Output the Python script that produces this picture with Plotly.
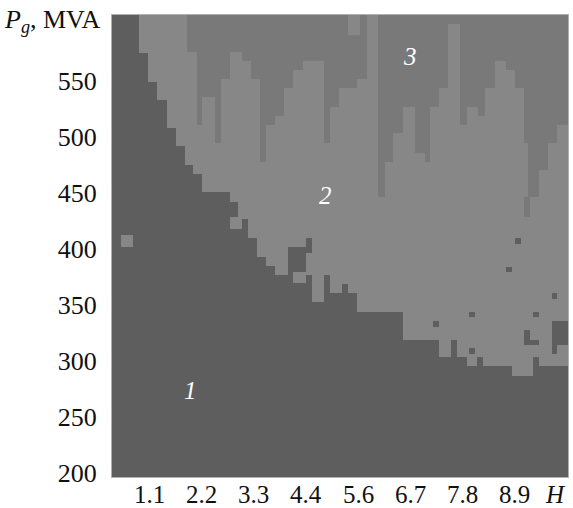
import numpy as np
import plotly.graph_objects as go

# Stability regions on the (H, Pg) plane: 1, 2 and 3

# Upper edge of region 1: for H in [E1_H[i], E1_H[i+1]) region 1 lies below E1_P[i]
E1_H = [0.317, 0.898, 1.089, 1.281, 1.481, 1.672, 1.864, 2.047, 2.238, 2.828, 3.004,
        3.217, 3.409, 3.594, 3.785, 4.055, 4.445, 4.566, 4.828, 4.955, 5.217, 5.345,
        5.523, 6.502, 7.281, 7.530, 7.651, 7.864, 8.08, 8.22, 8.821, 9.281, 9.409, 10.02]
E1_P = [610, 574.6, 549.3, 532.9, 508.1, 491.8, 474.8, 466.8, 451.0, 442.0, 426.6,
        409.3, 392.9, 384.6, 376.5, 401.8, 376.5, 352.1, 376.5, 360.2, 368.5, 360.2,
        343.7, 319.0, 303.5, 319.0, 303.5, 295.2, 303.0, 295.2, 286.2, 303.0, 295.2]

# Lower edge of region 3: for H in [E3_H[i], E3_H[i+1]) region 3 lies above E3_P[i]
E3_H = [0.317, 1.919, 2.119, 2.238, 2.509, 2.630, 2.828, 3.077, 3.274, 3.466, 3.594,
        3.785, 3.983, 4.174, 4.374, 4.828, 4.955, 5.153, 5.345, 5.523, 5.736, 5.983,
        6.126, 6.302, 6.502, 6.764, 6.977, 7.083, 7.281, 7.472, 7.721, 7.864, 8.111,
        8.253, 8.466, 8.700, 8.891, 9.083, 9.281, 9.409, 9.600, 9.791, 10.02]
E3_P = [999, 576.1, 510.6, 535.3, 494.2, 551.7, 576.1, 568.0, 551.7, 477.8, 510.6,
        518.6, 543.4, 559.7, 568.0, 494.2, 526.9, 543.4, 543.4, 551.7, 999, 446.5,
        477.8, 503.1, 526.9, 485.5, 477.8, 526.9, 543.4, 601.2, 510.6, 526.9, 518.6,
        543.4, 568.0, 559.7, 543.4, 494.2, 446.5, 470.3, 494.2, 510.6]

# Isolated islands: region, H from, H to, Pg from, Pg to
ISL_REGION = [2, 2, 2, 2,
              1, 1, 1, 1, 1, 1, 1, 1, 1, 1, 1, 1,
              3, 3]
ISL_H0 = [0.502, 2.828, 4.174, 5.345,
          7.919, 9.281, 7.153, 7.919, 9.672, 9.672, 9.083, 9.211, 8.891, 8.700, 9.672, 4.445,
          9.083, 9.174]
ISL_H1 = [0.770, 3.077, 4.438, 5.594,
          8.040, 9.409, 7.281, 8.040, 10.02, 9.791, 9.211, 9.409, 9.013, 8.821, 9.791, 4.566,
          9.211, 9.281]
ISL_P0 = [401.3, 417.6, 369.1, 591.0,
          338.7, 338.7, 330.3, 305.9, 313.9, 305.9, 313.9, 313.9, 404.2, 379.5, 355.1, 395.9,
          428.6, 446.5]
ISL_P1 = [412.3, 428.6, 379.5, 610.0,
          343.7, 343.7, 335.4, 311.0, 335.4, 313.9, 327.4, 319.0, 409.3, 383.9, 360.2, 409.3,
          446.5, 494.2]

H_RANGE = [0.317, 10.02]
P_RANGE = [196.2, 608.8]

X_TICKS = [10 / 9 * k for k in range(1, 9)]
X_TICKTEXT = ["1.1", "2.2", "3.3", "4.4", "5.6", "6.7", "7.8", "8.9"]
Y_TICKS = [200, 250, 300, 350, 400, 450, 500, 550]

COLORS = {1: "#5e5e5e", 2: "#878787", 3: "#797979"}

# cell edges: every breakpoint inside the visible window
xe = sorted(set([h for h in E1_H + E3_H + ISL_H0 + ISL_H1
                 if H_RANGE[0] <= h <= H_RANGE[1]] + H_RANGE))
ye = sorted(set([p for p in E1_P + E3_P + ISL_P0 + ISL_P1
                 if P_RANGE[0] <= p <= P_RANGE[1]] + P_RANGE))
xc = [(a + b) / 2 for a, b in zip(xe[:-1], xe[1:])]
yc = [(a + b) / 2 for a, b in zip(ye[:-1], ye[1:])]


def step_value(edges, levels, h):
    i = np.searchsorted(edges, h, side="right") - 1
    i = min(max(i, 0), len(levels) - 1)
    return levels[i]


z = np.full((len(yc), len(xc)), 2, dtype=int)
for j, h in enumerate(xc):
    p1 = step_value(E1_H, E1_P, h)
    p3 = step_value(E3_H, E3_P, h)
    for i, p in enumerate(yc):
        if p < p1:
            z[i, j] = 1
        elif p >= p3:
            z[i, j] = 3
for reg, h0, h1, p0, p1 in zip(ISL_REGION, ISL_H0, ISL_H1, ISL_P0, ISL_P1):
    for j, h in enumerate(xc):
        if h0 <= h <= h1:
            for i, p in enumerate(yc):
                if p0 <= p <= p1:
                    z[i, j] = reg

fig = go.Figure(go.Heatmap(
    x=xe, y=ye, z=z,
    zmin=1, zmax=3,
    colorscale=[[0, COLORS[1]], [0.5, COLORS[2]], [1, COLORS[3]]],
    showscale=False, hoverinfo="skip",
))

serif = "Liberation Serif"
for txt, hx, py in [("1", 1.98, 273.7), ("2", 4.85, 448.0), ("3", 6.66, 571.3)]:
    fig.add_annotation(x=hx, y=py, text=f"<i>{txt}</i>", showarrow=False,
                       font=dict(family=serif, size=25, color="white"))

# x tick labels sit just under the plot
for tv, tt in zip(X_TICKS, X_TICKTEXT):
    fig.add_annotation(x=tv, xref="x", y=0, yref="paper", xanchor="center",
                       yanchor="top", yshift=-2, text=tt, showarrow=False,
                       font=dict(family=serif, size=25, color="#111"))

fig.add_annotation(x=1.0, xref="paper", y=0, yref="paper", xanchor="right",
                   yanchor="top", yshift=-2, text="<i>H</i>", showarrow=False,
                   font=dict(family=serif, size=25, color="#111"))
fig.add_annotation(x=0, xref="paper", y=1, yref="paper", xanchor="right",
                   yanchor="middle", xshift=-9, yshift=-6,
                   text="<i>P</i><sub><i>g</i></sub>, MVA", showarrow=False,
                   font=dict(family=serif, size=26, color="#111"))

fig.update_layout(
    width=573, height=508,
    margin=dict(l=112, r=5, t=15, b=31, autoexpand=False),
    paper_bgcolor="white", plot_bgcolor="white",
    font=dict(family=serif, size=26, color="#111"),
    xaxis=dict(range=H_RANGE, tickvals=X_TICKS, showticklabels=False, automargin=False,
               showgrid=False, zeroline=False, ticks="",
               showline=True, linecolor="#b0b0b0", linewidth=1, mirror=True),
    yaxis=dict(range=P_RANGE, tickvals=Y_TICKS, showgrid=False, zeroline=False,
               ticks="", ticklabelstandoff=9, automargin=False,
               tickfont=dict(family=serif, size=26, color="#111"),
               showline=True, linecolor="#b0b0b0", linewidth=1, mirror=True),
)

fig.write_html("out.html")
